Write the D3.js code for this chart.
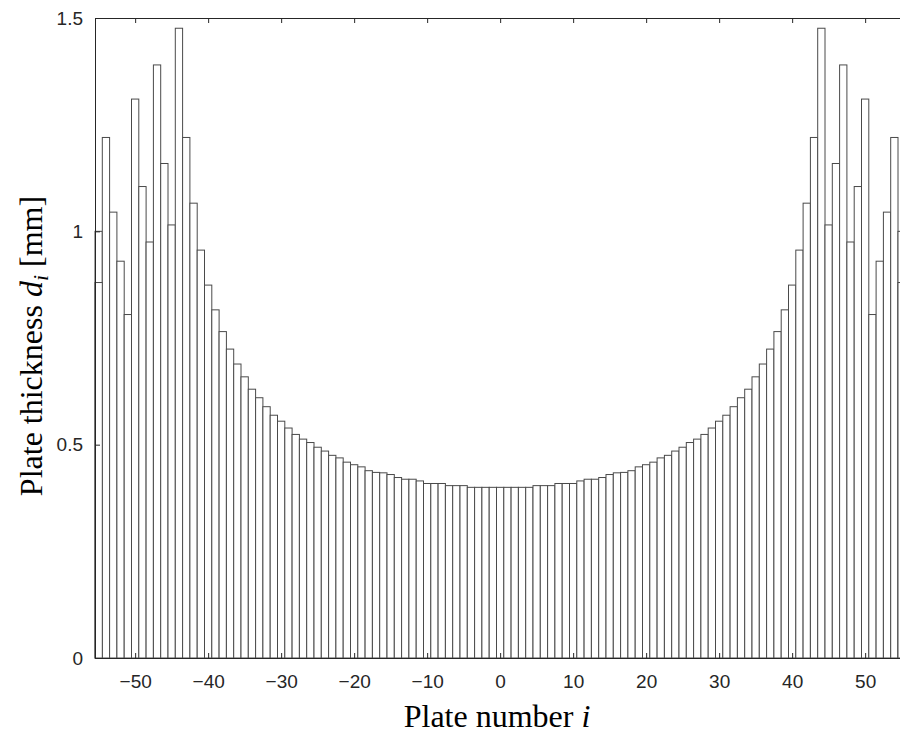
<!DOCTYPE html>
<html lang="en">
<head>
<meta charset="utf-8">
<title>plate thickness</title>
<script src="https://cdn.jsdelivr.net/npm/d3@7"></script>
<style>
	body { margin: 0; background-color: #fff; }
	svg { display: block; background-color: #fff; }
	.tick text { font-family: "Liberation Sans", Arial, sans-serif; font-size: 19px; fill: #262626; }
	.axis path, .axis line { stroke: #262626; }
	.axis-label { font-family: "Liberation Serif", "Times New Roman", serif; font-size: 32px; fill: #000; }
	rect.bar { fill: #fff; stroke: #4a4a4a; stroke-width: 1; }
</style>
</head>
<body>
<script>

// plate numbers i (categories)
var plateNumbers = d3.range(-55, 56);

// plate thickness d_i [mm], plate -55 .. 55
var thickness = [
	1.00, 1.22, 1.045, 0.93, 0.805, 1.31, 1.105, 0.975, 1.39, 1.159,
	1.015, 1.476, 1.22, 1.066, 0.956, 0.874, 0.816, 0.765, 0.724, 0.689,
	0.659, 0.630, 0.610, 0.589, 0.569, 0.555, 0.539, 0.524, 0.513, 0.505,
	0.494, 0.485, 0.475, 0.469, 0.459, 0.453, 0.448, 0.439, 0.435, 0.434,
	0.430, 0.423, 0.419, 0.419, 0.415, 0.409, 0.409, 0.409, 0.404, 0.404,
	0.404, 0.400, 0.400, 0.400, 0.400, 0.400, 0.400, 0.400, 0.400, 0.400,
	0.404, 0.404, 0.404, 0.409, 0.409, 0.409, 0.415, 0.419, 0.419, 0.423,
	0.430, 0.434, 0.435, 0.439, 0.448, 0.453, 0.459, 0.469, 0.475, 0.485,
	0.494, 0.505, 0.513, 0.524, 0.539, 0.555, 0.569, 0.589, 0.610, 0.630,
	0.659, 0.689, 0.724, 0.765, 0.816, 0.874, 0.956, 1.066, 1.22, 1.476,
	1.015, 1.159, 1.39, 0.975, 1.105, 1.31, 0.805, 0.93, 1.045, 1.22,
	1.00
];

// second outline drawn inside the two outermost columns
var overlayPlates = [-55, 55];
var overlayValues = [0.88, 0.88];

var xTicks = [-50, -40, -30, -20, -10, 0, 10, 20, 30, 40, 50];
var yTicks = [0, 0.5, 1, 1.5];

var width = 900, height = 738;
var plotLeft = 95, plotTop = 18, plotBottom = 658;
var unit = 7.3;

var svg = d3.select("body")
	.append("svg")
	.attr("width", width)
	.attr("height", height);

var x = d3.scaleLinear()
	.domain([-55.5, 55.5])
	.range([plotLeft, plotLeft + 111 * unit]);

var y = d3.scaleLinear()
	.domain([0, 1.5])
	.range([plotBottom, plotTop]);

var data = plateNumbers.map(function(p, k) { return { plate: p, value: thickness[k] }; });
var overlay = overlayPlates.map(function(p, k) { return { plate: p, value: overlayValues[k] }; });

function drawBars(cls, rows) {
	svg.append("g").selectAll("rect")
		.data(rows)
		.enter()
		.append("rect")
		.attr("class", "bar " + cls)
		.attr("x", function(d) { return x(d.plate - 0.5); })
		.attr("width", function(d) { return x(d.plate + 0.5) - x(d.plate - 0.5); })
		.attr("y", function(d) { return y(d.value); })
		.attr("height", function(d) { return y(0) - y(d.value); });
}

drawBars("main", data);
drawBars("overlay", overlay);

// axes, ticks pointing inward, box on
svg.append("g")
	.attr("class", "axis")
	.attr("transform", "translate(0," + plotBottom + ")")
	.call(d3.axisBottom(x).tickValues(xTicks).tickSizeInner(-5).tickSizeOuter(0)
		.tickPadding(17).tickFormat(d3.format("d")));

svg.append("g")
	.attr("class", "axis")
	.attr("transform", "translate(0," + plotTop + ")")
	.call(d3.axisTop(x).tickValues(xTicks).tickSizeInner(-5).tickSizeOuter(0).tickFormat(""));

svg.append("g")
	.attr("class", "axis")
	.attr("transform", "translate(" + plotLeft + ",0)")
	.call(d3.axisLeft(y).tickValues(yTicks).tickSizeInner(-5).tickSizeOuter(0)
		.tickPadding(12).tickFormat(function(d) { return String(d); }));

svg.append("g")
	.attr("class", "axis")
	.attr("transform", "translate(" + x(55.5) + ",0)")
	.call(d3.axisRight(y).tickValues(yTicks).tickSizeInner(-5).tickSizeOuter(0).tickFormat(""));

// axis titles
var xl = svg.append("text")
	.attr("class", "axis-label")
	.attr("x", 497)
	.attr("y", 727)
	.attr("text-anchor", "middle");
xl.append("tspan").text("Plate number ");
xl.append("tspan").attr("font-style", "italic").text("i");

var yl = svg.append("text")
	.attr("class", "axis-label")
	.attr("transform", "translate(42,346) rotate(-90)")
	.attr("text-anchor", "middle");
yl.append("tspan").text("Plate thickness ");
yl.append("tspan").attr("font-style", "italic").text("d");
yl.append("tspan").attr("font-style", "italic").attr("font-size", "22px").attr("dy", 6).text("i");
yl.append("tspan").attr("dy", -6).text(" [mm]");

</script>
</body>
</html>
